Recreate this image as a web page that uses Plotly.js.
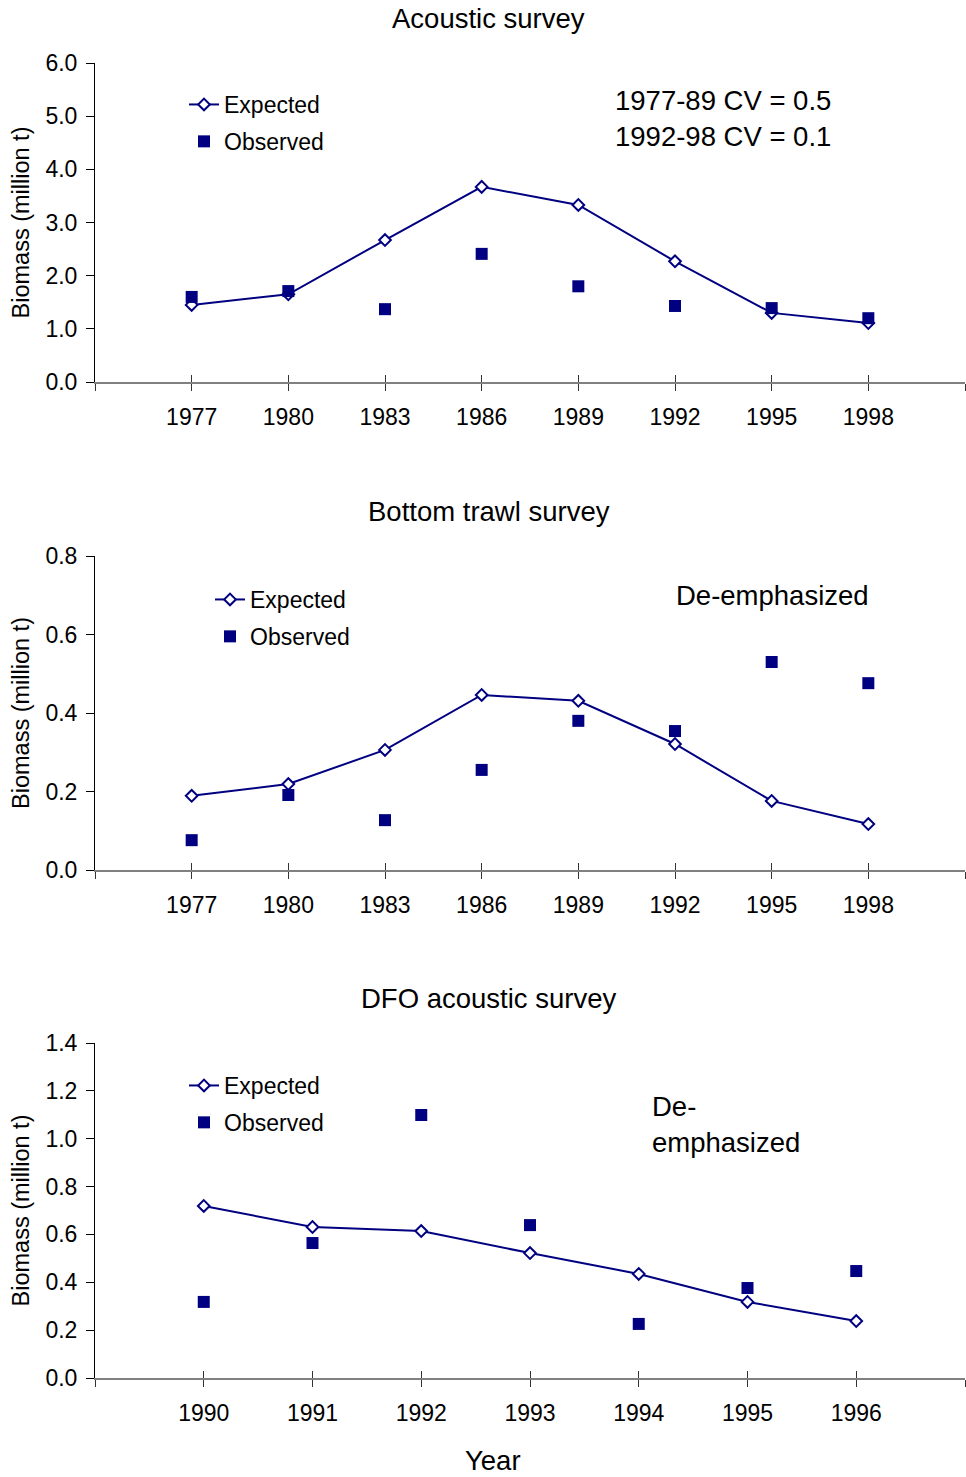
<!DOCTYPE html>
<html>
<head>
<meta charset="utf-8">
<script src="https://cdn.plot.ly/plotly-3.0.1.min.js"></script>
<style>html,body{margin:0;padding:0;background:#fff;}#chart{width:966px;height:1477px;}</style>
</head>
<body>
<div id="chart"></div>
<script>
// ---- data ----
const years1 = [1977, 1980, 1983, 1986, 1989, 1992, 1995, 1998];
const acousticExpected = [1.45, 1.65, 2.67, 3.67, 3.33, 2.27, 1.30, 1.11];
const acousticObserved = [1.60, 1.71, 1.37, 2.41, 1.80, 1.43, 1.39, 1.20];
const trawlExpected = [0.189, 0.219, 0.306, 0.446, 0.431, 0.321, 0.176, 0.117];
const trawlObserved = [0.076, 0.191, 0.127, 0.255, 0.380, 0.354, 0.530, 0.476];
const years3 = [1990, 1991, 1992, 1993, 1994, 1995, 1996];
const dfoExpected = [0.719, 0.631, 0.614, 0.522, 0.435, 0.318, 0.238];
const dfoObserved = [0.318, 0.564, 1.099, 0.639, 0.226, 0.376, 0.447];
const xRange1 = [1974, 2001];
const xRange3 = [1989, 1997];
const yTicks1 = [0, 1, 2, 3, 4, 5, 6];
const yTicks2 = [0, 0.2, 0.4, 0.6, 0.8];
const yTicks3 = [0, 0.2, 0.4, 0.6, 0.8, 1.0, 1.2, 1.4];

// ---- helpers ----
const W = 966, H = 1477;
const px = v => v / W;
const py = v => 1 - v / H;
const NAVY = '#000080';
const FONT = 'Liberation Sans, Arial, sans-serif';

const xt1 = [xRange1[0]].concat(years1, [xRange1[1]]);
const xl1 = [''].concat(years1.map(String), ['']);
const xt3 = [xRange3[0]].concat(years3, [xRange3[1]]);
const xl3 = [''].concat(years3.map(String), ['']);

function expTrace(x, y, xa, ya, leg) {
  return {x: x, y: y, xaxis: xa, yaxis: ya, type: 'scatter', mode: 'lines+markers',
    name: 'Expected', legend: leg, legendgroup: leg + 'e',
    line: {color: NAVY, width: 2},
    marker: {symbol: 'diamond', size: 9, color: '#ffffff', line: {color: NAVY, width: 2}}};
}
function obsTrace(x, y, xa, ya, leg) {
  return {x: x, y: y, xaxis: xa, yaxis: ya, type: 'scatter', mode: 'markers',
    name: 'Observed', legend: leg, legendgroup: leg + 'o',
    marker: {symbol: 'square', size: 12, color: NAVY}};
}
function dummy(xa, ya) {
  return {x: [], y: [], xaxis: xa, yaxis: ya, type: 'scatter', showlegend: false, hoverinfo: 'skip'};
}

const data = [
  expTrace(years1, acousticExpected, 'x', 'y', 'legend'),
  obsTrace(years1, acousticObserved, 'x', 'y', 'legend'),
  expTrace(years1, trawlExpected, 'x2', 'y2', 'legend2'),
  obsTrace(years1, trawlObserved, 'x2', 'y2', 'legend2'),
  expTrace(years3, dfoExpected, 'x3', 'y3', 'legend3'),
  obsTrace(years3, dfoObserved, 'x3', 'y3', 'legend3'),
  dummy('x4', 'y'), dummy('x5', 'y2'), dummy('x6', 'y3')
];

const xDom = [px(95), px(965)];
function xMain(range, tv, tt, anchor) {
  return {domain: xDom, range: range, anchor: anchor, tickmode: 'array', tickvals: tv, ticktext: tt,
    ticks: 'outside', ticklen: 7, tickwidth: 1, tickcolor: '#333',
    showline: true, linecolor: '#808080', linewidth: 1.5,
    showgrid: false, zeroline: false, ticklabelstandoff: 7,
    tickfont: {family: FONT, size: 23, color: '#000'}, fixedrange: true};
}
function xOver(range, tv, anchor, over) {
  return {domain: xDom, range: range, anchor: anchor, overlaying: over, tickmode: 'array', tickvals: tv,
    ticks: 'inside', ticklen: 7, tickwidth: 1, tickcolor: '#333',
    showticklabels: false, showline: false, showgrid: false, zeroline: false};
}
function yAx(dom, range, tv, anchor) {
  return {domain: dom, range: range, anchor: anchor, tickmode: 'array', tickvals: tv,
    tickformat: '.1f', ticks: 'outside', ticklen: 8, tickwidth: 1, tickcolor: '#000',
    showline: true, linecolor: '#000', linewidth: 1,
    showgrid: false, zeroline: false, ticklabelstandoff: 4,
    tickfont: {family: FONT, size: 23, color: '#000'},
    title: {text: 'Biomass (million t)', font: {family: FONT, size: 23.5, color: '#000'}, standoff: 9}};
}

function legendAt(xpx, ypx) {
  return {x: px(xpx), y: py(ypx), xanchor: 'left', yanchor: 'top', bgcolor: 'rgba(0,0,0,0)',
    borderwidth: 0, traceorder: 'grouped', tracegroupgap: 4,
    font: {family: FONT, size: 23, color: '#000'}};
}

function ann(text, xpx, ypx, size, xanchor, align) {
  return {text: text, x: px(xpx), y: py(ypx), xref: 'paper', yref: 'paper', showarrow: false,
    xanchor: xanchor || 'center', yanchor: 'middle', align: align || 'center',
    font: {family: FONT, size: size, color: '#000'}};
}

const layout = {
  width: W, height: H, margin: {l: 0, r: 0, t: 0, b: 0},
  paper_bgcolor: '#fff', plot_bgcolor: 'rgba(0,0,0,0)', showlegend: true,
  font: {family: FONT, color: '#000'},
  xaxis: xMain(xRange1, xt1, xl1, 'y'),
  xaxis2: xMain(xRange1, xt1, xl1, 'y2'),
  xaxis3: xMain(xRange3, xt3, xl3, 'y3'),
  xaxis4: xOver(xRange1, xt1, 'y', 'x'),
  xaxis5: xOver(xRange1, xt1, 'y2', 'x2'),
  xaxis6: xOver(xRange3, xt3, 'y3', 'x3'),
  yaxis: yAx([py(382), py(63)], [0, 6], yTicks1, 'x'),
  yaxis2: yAx([py(870), py(556)], [0, 0.8], yTicks2, 'x2'),
  yaxis3: yAx([py(1378), py(1043)], [0, 1.4], yTicks3, 'x3'),
  legend: legendAt(184, 83),
  legend2: legendAt(210, 578),
  legend3: legendAt(184, 1064),
  annotations: [
    ann('Acoustic survey', 488, 19, 27.5),
    ann('Bottom trawl survey', 489, 511, 27.5),
    ann('DFO acoustic survey', 488, 998, 27.5),
    ann('Year', 493, 1460, 27.5),
    ann('1977-89 CV = 0.5<br>1992-98 CV = 0.1', 613, 118, 27.5, 'left', 'left'),
    ann('De-emphasized', 674, 595, 27.5, 'left', 'left'),
    ann('De-<br>emphasized', 650, 1124, 27.5, 'left', 'left')
  ]
};

Plotly.newPlot('chart', data, layout, {staticPlot: true, displayModeBar: false});
</script>
</body>
</html>
